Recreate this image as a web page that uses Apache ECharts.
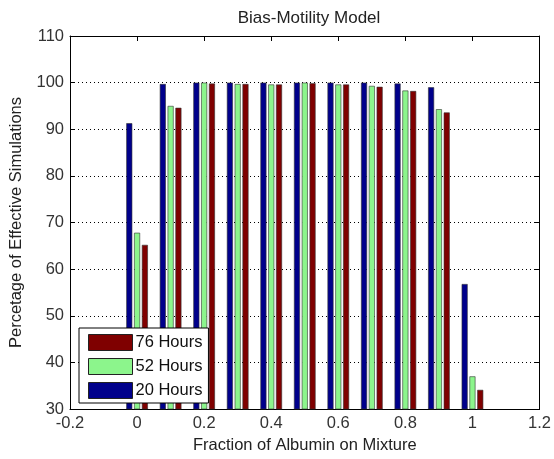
<!DOCTYPE html>
<html><head><meta charset="utf-8">
<script src="https://cdn.jsdelivr.net/npm/echarts@6/dist/echarts.min.js"></script>
<style>html,body{margin:0;padding:0;background:#fff}#c{width:554px;height:459px}</style>
</head><body><div id="c"></div>
<script>
const xValues = [0, 0.1, 0.2, 0.3, 0.4, 0.5, 0.6, 0.7, 0.8, 0.9, 1.0];
const hours20 = [91.3, 99.7, 100, 100, 100, 100, 100, 100, 99.8, 99.0, 56.8];
const hours52 = [67.8, 95.0, 100, 99.7, 99.6, 100, 99.6, 99.3, 98.3, 94.3, 37.0];
const hours76 = [65.2, 94.6, 99.8, 99.7, 99.6, 99.9, 99.6, 99.1, 98.2, 93.6, 34.1];
const seriesNames = ['20 Hours', '52 Hours', '76 Hours'];
const legendOrder = ['76 Hours', '52 Hours', '20 Hours'];
const colors = ['#00008B', '#8CF58C', '#7F0000'];

const font = 'Arial, "Liberation Sans", sans-serif';
const fs = 16.5;
const chart = echarts.init(document.getElementById('c'), null, {renderer: 'canvas'});
const mk = (arr, i) => ({
  name: seriesNames[i], type: 'bar', xAxisIndex: 0, yAxisIndex: 0,
  data: xValues.map((x, k) => [x, arr[k]]),
  barWidth: 6, barGap: '30%',
  itemStyle: {color: colors[i], borderColor: '#333', borderWidth: 0.6},
  emphasis: {disabled: true}
});
chart.setOption({
  animation: false,
  backgroundColor: '#fff',
  title: {text: 'Bias-Motility Model', left: 304, top: 5, textAlign: 'center',
    textStyle: {fontFamily: font, fontSize: 17, fontWeight: 'normal', color: '#222'}},
  grid: {left: 69, right: 11, top: 36, bottom: 48},
  legend: {
    data: legendOrder, orient: 'vertical', left: 79, top: 328,
    icon: 'rect',
    itemWidth: 44, itemHeight: 16, itemGap: 7, padding: [6, 6, 4, 9],
    itemStyle: {borderColor: '#222', borderWidth: 1},
    backgroundColor: '#fff', borderColor: '#000', borderWidth: 1,
    textStyle: {fontFamily: font, fontSize: fs, color: '#111', padding: [0, 0, 0, -2]},
    selectedMode: false
  },
  xAxis: [{
    type: 'value', min: -0.2, max: 1.2, interval: 0.2, position: 'bottom',
    name: 'Fraction of Albumin on Mixture', nameLocation: 'middle', nameGap: 28,
    nameTextStyle: {fontFamily: font, fontSize: fs, color: '#222'},
    axisLine: {show: true, onZero: false, lineStyle: {color: '#000', width: 1}},
    axisTick: {show: true, inside: true, length: 5, lineStyle: {color: '#000'}},
    axisLabel: {fontFamily: font, fontSize: fs, color: '#333', margin: 6,
      formatter: v => String(Math.round(v * 10) / 10)},
    splitLine: {show: false}
  }, {
    type: 'value', min: -0.2, max: 1.2, interval: 0.2, position: 'top',
    axisLine: {show: true, onZero: false, lineStyle: {color: '#000', width: 1}},
    axisTick: {show: true, inside: true, length: 5, lineStyle: {color: '#000'}},
    axisLabel: {show: false}, splitLine: {show: false}
  }],
  yAxis: [{
    type: 'value', min: 30, max: 110, interval: 10, position: 'left',
    name: 'Percetage of Effective Simulations', nameLocation: 'middle', nameGap: 45,
    nameTextStyle: {fontFamily: font, fontSize: fs, color: '#222'},
    axisLine: {show: true, onZero: false, lineStyle: {color: '#000', width: 1}},
    axisTick: {show: true, inside: true, length: 5, lineStyle: {color: '#000'}},
    axisLabel: {fontFamily: font, fontSize: fs, color: '#333', margin: 6},
    splitLine: {show: true, lineStyle: {color: '#000', type: [1, 3], width: 1}}
  }, {
    type: 'value', min: 30, max: 110, interval: 10, position: 'right',
    axisLine: {show: true, onZero: false, lineStyle: {color: '#000', width: 1}},
    axisTick: {show: true, inside: true, length: 5, lineStyle: {color: '#000'}},
    axisLabel: {show: false}, splitLine: {show: false}
  }],
  series: [mk(hours20, 0), mk(hours52, 1), mk(hours76, 2)]
});
</script></body></html>
